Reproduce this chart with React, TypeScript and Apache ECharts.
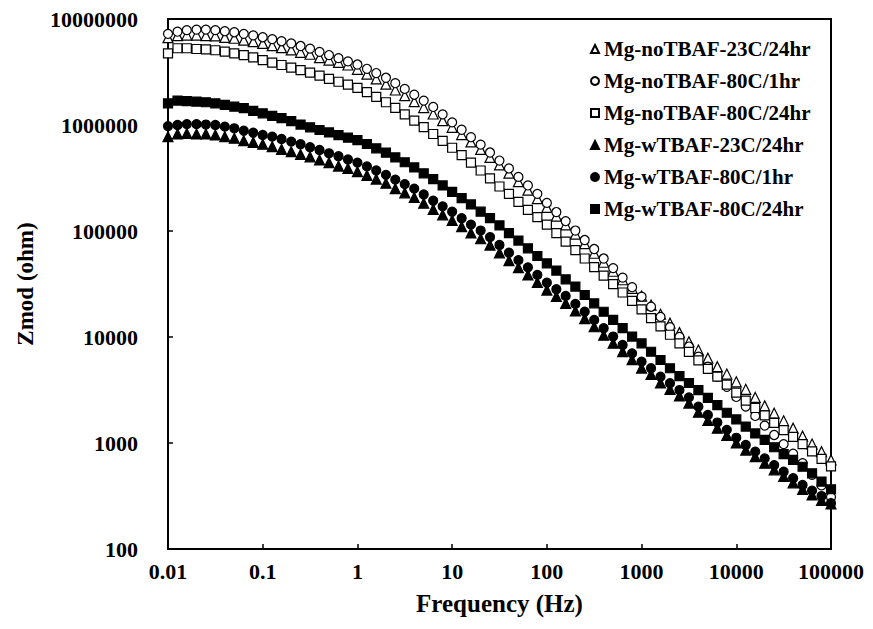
import React, { useEffect, useRef } from "react";
import * as echarts from "echarts";

const freq = [
  0.01, 0.0126, 0.0158, 0.02, 0.0251, 0.0316, 0.0398, 0.0501, 0.0631, 0.0794,
  0.1, 0.126, 0.158, 0.2, 0.251, 0.316, 0.398, 0.501, 0.631, 0.794,
  1, 1.26, 1.58, 2, 2.51, 3.16, 3.98, 5.01, 6.31, 7.94,
  10, 12.6, 15.8, 20, 25.1, 31.6, 39.8, 50.1, 63.1, 79.4,
  100, 126, 158, 200, 251, 316, 398, 501, 631, 794,
  1000, 1259, 1585, 1995, 2512, 3162, 3981, 5012, 6310, 7943,
  10000, 12589, 15849, 19953, 25119, 31623, 39811, 50119, 63096, 79433,
  100000,
];

const noTBAF23C24 = [
  6.67e6, 6.97e6, 7.06e6, 7.06e6, 6.97e6, 6.92e6, 6.71e6, 6.58e6, 6.31e6, 6.11e6,
  5.89e6, 5.6e6, 5.37e6, 5.11e6, 4.85e6, 4.65e6, 4.32e6, 4.1e6, 3.89e6, 3.68e6,
  3.35e6, 3.02e6, 2.72e6, 2.43e6, 2.14e6, 1.89e6, 1.66e6, 1.46e6, 1.27e6, 1.1e6,
  9.51e5, 8.13e5, 6.92e5, 5.89e5, 4.95e5, 4.2e5, 3.51e5, 2.92e5, 2.43e5, 2.02e5,
  1.67e5, 1.38e5, 1.14e5, 9.33e4, 7.59e4, 6.17e4, 5.07e4, 4.17e4, 3.47e4, 2.88e4,
  2.43e4, 2.0e4, 1.64e4, 1.35e4, 1.1e4, 9.02e3, 7.53e3, 6.31e3, 5.25e3, 4.47e3,
  3.78e3, 3.21e3, 2.69e3, 2.24e3, 1.91e3, 1.62e3, 1.38e3, 1.16e3, 977, 828,
  692,
];

const noTBAF80C1 = [
  7.24e6, 7.59e6, 7.85e6, 7.94e6, 7.94e6, 7.85e6, 7.67e6, 7.5e6, 7.24e6, 7.0e6,
  6.73e6, 6.46e6, 6.17e6, 5.89e6, 5.56e6, 5.25e6, 4.9e6, 4.57e6, 4.27e6, 3.98e6,
  3.72e6, 3.39e6, 3.09e6, 2.79e6, 2.48e6, 2.19e6, 1.93e6, 1.7e6, 1.48e6, 1.26e6,
  1.06e6, 9.02e5, 7.67e5, 6.53e5, 5.5e5, 4.62e5, 3.89e5, 3.24e5, 2.69e5, 2.24e5,
  1.84e5, 1.51e5, 1.24e5, 1.01e5, 8.22e4, 6.76e4, 5.5e4, 4.47e4, 3.63e4, 2.95e4,
  2.4e4, 1.93e4, 1.55e4, 1.24e4, 1.0e4, 8.13e3, 6.53e3, 5.25e3, 4.22e3, 3.39e3,
  2.72e3, 2.21e3, 1.8e3, 1.46e3, 1.19e3, 977, 794, 646, 501, 398,
  309,
];

const noTBAF80C24 = [
  4.74e6, 5.3e6, 5.3e6, 5.21e6, 5.18e6, 5.07e6, 4.92e6, 4.74e6, 4.57e6, 4.35e6,
  4.1e6, 3.87e6, 3.68e6, 3.48e6, 3.3e6, 3.12e6, 2.92e6, 2.72e6, 2.56e6, 2.4e6,
  2.24e6, 2.04e6, 1.84e6, 1.64e6, 1.45e6, 1.26e6, 1.1e6, 9.55e5, 8.22e5, 7.08e5,
  6.1e5, 5.19e5, 4.42e5, 3.72e5, 3.13e5, 2.63e5, 2.24e5, 1.88e5, 1.58e5, 1.35e5,
  1.15e5, 9.55e4, 7.94e4, 6.61e4, 5.5e4, 4.57e4, 3.8e4, 3.16e4, 2.63e4, 2.19e4,
  1.82e4, 1.51e4, 1.26e4, 1.05e4, 8.71e3, 7.24e3, 6.03e3, 5.01e3, 4.22e3, 3.55e3,
  2.99e3, 2.51e3, 2.14e3, 1.82e3, 1.55e3, 1.32e3, 1.14e3, 977, 832, 708,
  603,
];

const wTBAF23C24 = [
  7.76e5, 8.22e5, 8.32e5, 8.22e5, 8.22e5, 8.05e5, 7.76e5, 7.5e5, 7.11e5, 6.87e5,
  6.58e5, 6.25e5, 5.89e5, 5.6e5, 5.28e5, 5.01e5, 4.68e5, 4.41e5, 4.1e5, 3.89e5,
  3.63e5, 3.35e5, 3.09e5, 2.82e5, 2.51e5, 2.29e5, 2.07e5, 1.83e5, 1.6e5, 1.42e5,
  1.26e5, 1.1e5, 9.59e4, 8.45e4, 7.36e4, 6.22e4, 5.26e4, 4.51e4, 3.85e4, 3.27e4,
  2.77e4, 2.41e4, 2.08e4, 1.76e4, 1.49e4, 1.25e4, 1.04e4, 8.73e3, 7.29e3, 6.11e3,
  5.09e3, 4.44e3, 3.69e3, 3.21e3, 2.78e3, 2.38e3, 1.95e3, 1.63e3, 1.38e3, 1.18e3,
  1.0e3, 857, 743, 644, 558, 484, 421, 365, 324, 288,
  266,
];

const wTBAF80C1 = [
  9.77e5, 1.0e6, 1.02e6, 1.02e6, 1.01e6, 1.0e6, 9.64e5, 9.31e5, 8.83e5, 8.45e5,
  8.05e5, 7.76e5, 7.38e5, 6.97e5, 6.58e5, 6.17e5, 5.81e5, 5.41e5, 5.07e5, 4.73e5,
  4.42e5, 4.07e5, 3.72e5, 3.39e5, 3.05e5, 2.77e5, 2.51e5, 2.21e5, 1.93e5, 1.71e5,
  1.52e5, 1.32e5, 1.15e5, 1.01e5, 8.77e4, 7.38e4, 6.24e4, 5.32e4, 4.54e4, 3.85e4,
  3.25e4, 2.82e4, 2.44e4, 2.05e4, 1.73e4, 1.45e4, 1.21e4, 1.01e4, 8.41e3, 7.01e3,
  5.85e3, 5.07e3, 4.22e3, 3.66e3, 3.16e3, 2.69e3, 2.2e3, 1.84e3, 1.56e3, 1.33e3,
  1.12e3, 957, 828, 716, 619, 536, 465, 402, 355, 316,
  270,
];

const wTBAF80C24 = [
  1.6e6, 1.7e6, 1.68e6, 1.66e6, 1.64e6, 1.6e6, 1.55e6, 1.49e6, 1.44e6, 1.36e6,
  1.29e6, 1.22e6, 1.16e6, 1.09e6, 1.01e6, 9.51e5, 8.97e5, 8.51e5, 8.04e5, 7.59e5,
  7.21e5, 6.62e5, 6.03e5, 5.48e5, 4.95e5, 4.45e5, 3.98e5, 3.5e5, 3.09e5, 2.69e5,
  2.34e5, 2.04e5, 1.78e5, 1.52e5, 1.32e5, 1.13e5, 9.55e4, 8.13e4, 6.87e4, 5.81e4,
  4.95e4, 4.23e4, 3.5e4, 2.99e4, 2.49e4, 2.08e4, 1.73e4, 1.45e4, 1.21e4, 1.01e4,
  8.71e3, 7.26e3, 6.07e3, 5.07e3, 4.27e3, 3.68e3, 3.16e3, 2.67e3, 2.28e3, 1.93e3,
  1.67e3, 1.43e3, 1.23e3, 1.07e3, 912, 787, 692, 597, 518, 432,
  366,
];

const seriesDefs = [
  { name: "Mg-noTBAF-23C/24hr", values: noTBAF23C24, symbol: "triangle", filled: false, size: 10 },
  { name: "Mg-noTBAF-80C/1hr", values: noTBAF80C1, symbol: "circle", filled: false, size: 9 },
  { name: "Mg-noTBAF-80C/24hr", values: noTBAF80C24, symbol: "rect", filled: false, size: 9 },
  { name: "Mg-wTBAF-23C/24hr", values: wTBAF23C24, symbol: "triangle", filled: true, size: 10 },
  { name: "Mg-wTBAF-80C/1hr", values: wTBAF80C1, symbol: "circle", filled: true, size: 9 },
  { name: "Mg-wTBAF-80C/24hr", values: wTBAF80C24, symbol: "rect", filled: true, size: 9 },
];

const FONT = "'Liberation Serif', 'Times New Roman', serif";

function fmt(v: number) {
  return String(Number(v.toPrecision(6)));
}

export default function App() {
  const ref = useRef<HTMLDivElement>(null);
  useEffect(() => {
    if (!ref.current) return;
    const chart = echarts.init(ref.current, undefined, { renderer: "svg" });
    chart.setOption({
      animation: false,
      backgroundColor: "#fff",
      grid: {
        left: 168,
        right: 42,
        top: 19,
        bottom: 80,
        show: true,
        borderColor: "#000",
        borderWidth: 2,
      },
      legend: {
        orient: "vertical",
        left: 585,
        top: 33,
        itemWidth: 8,
        itemHeight: 8,
        itemGap: 10,
        data: seriesDefs.map((s) => s.name),
        textStyle: {
          fontFamily: FONT,
          fontWeight: "bold",
          fontSize: 21,
          color: "#000",
          lineHeight: 22,
        },
      },
      xAxis: {
        type: "log",
        logBase: 10,
        min: 0.01,
        max: 100000,
        name: "Frequency (Hz)",
        nameLocation: "middle",
        nameGap: 42,
        nameTextStyle: { fontFamily: FONT, fontWeight: "bold", fontSize: 25, color: "#000" },
        axisLine: { show: true, lineStyle: { color: "#000", width: 2 } },
        axisTick: { show: true, inside: true, length: 5, lineStyle: { color: "#000", width: 1.5 } },
        minorTick: { show: false },
        splitLine: { show: false },
        axisLabel: {
          fontFamily: FONT,
          fontWeight: "bold",
          fontSize: 22,
          color: "#000",
          margin: 11,
          formatter: (v: number) => fmt(v),
        },
      },
      yAxis: {
        type: "log",
        logBase: 10,
        min: 100,
        max: 10000000,
        name: "Zmod (ohm)",
        nameLocation: "middle",
        nameGap: 131,
        nameTextStyle: { fontFamily: FONT, fontWeight: "bold", fontSize: 23, color: "#000" },
        axisLine: { show: true, lineStyle: { color: "#000", width: 2 } },
        axisTick: { show: true, inside: true, length: 5, lineStyle: { color: "#000", width: 1.5 } },
        splitLine: { show: false },
        axisLabel: {
          fontFamily: FONT,
          fontWeight: "bold",
          fontSize: 22,
          color: "#000",
          margin: 30,
          formatter: (v: number) => fmt(v),
        },
      },
      series: seriesDefs.map((s) => ({
        name: s.name,
        type: "scatter",
        symbol: s.symbol,
        symbolSize: s.size,
        data: freq.map((f, i) => [f, s.values[i]]),
        itemStyle: {
          color: s.filled ? "#000" : "#fff",
          borderColor: "#000",
          borderWidth: 1.2,
          opacity: 1,
        },
        emphasis: { disabled: true },
      })),
    });
    return () => chart.dispose();
  }, []);
  return (
    <div
      ref={ref}
      style={{ position: "fixed", left: 0, top: 0, width: 873, height: 629, background: "#fff" }}
    />
  );
}
